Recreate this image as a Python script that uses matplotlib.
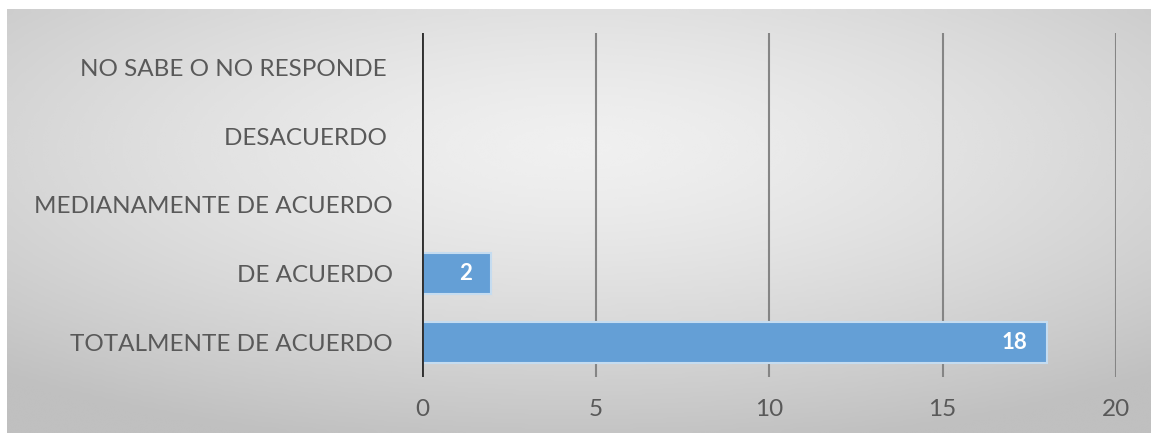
import numpy as np
import matplotlib
matplotlib.use("Agg")
import matplotlib.pyplot as plt

# data
categorias = ["TOTALMENTE DE ACUERDO", "DE ACUERDO", "MEDIANAMENTE DE ACUERDO",
              "DESACUERDO ", "NO SABE O NO RESPONDE "]
valores = [18, 2, 0, 0, 0]
ticks_x = [0, 5, 10, 15, 20]

plt.rcParams["font.family"] = ["Lato", "DejaVu Sans"]

fig = plt.figure(figsize=(11.51, 4.33), dpi=100)
fig.patch.set_facecolor("white")

# gray gradient background (light centre, darker edges)
bg = fig.add_axes([7 / 1151, 0, 1 - 7 / 1151, (433 - 9) / 433])
gx = np.linspace(-1, 1, 400)
gy = np.linspace(-1, 1, 150)
X, Y = np.meshgrid(gx, gy)
r = np.sqrt((X * 0.85) ** 2 + ((Y + 0.35) * 0.9) ** 2)
shade = 0.94 - 0.13 * np.clip(r, 0, 1.3) ** 1.4
bg.imshow(shade, cmap="gray", vmin=0, vmax=1, aspect="auto", extent=[0, 1, 0, 1], interpolation="bicubic")
bg.set_axis_off()

ax = fig.add_axes([422 / 1151, (433 - 377) / 433, (1116 - 422) / 1151, (377 - 33) / 433])
ax.patch.set_alpha(0)

y = np.arange(len(categorias))
bars = ax.barh(y, valores, height=0.6, color="#649fd6", edgecolor="#c5dcf0", linewidth=1.5, zorder=3)

for b, v in zip(bars, valores):
    if v > 0:
        ax.text(v - 0.55, b.get_y() + b.get_height() / 2, str(v), ha="right", va="center",
                color="white", fontsize=16, fontweight="bold", zorder=4)

ax.set_xlim(0, 20)
ax.set_ylim(-0.5, len(categorias) - 0.5)
ax.set_xticks(ticks_x)
ax.set_yticks(y)
ax.set_yticklabels(categorias)
ax.xaxis.grid(True, color="#858585", linewidth=1.5, zorder=1)
ax.set_axisbelow(True)
ax.axvline(0, color="#303030", linewidth=2.8, zorder=5)

for s in ax.spines.values():
    s.set_visible(False)
ax.tick_params(axis="both", length=0, labelsize=17.5, colors="#595959")
ax.tick_params(axis="x", pad=16)
ax.tick_params(axis="y", pad=21)

fig.savefig("out.png", dpi=100)
